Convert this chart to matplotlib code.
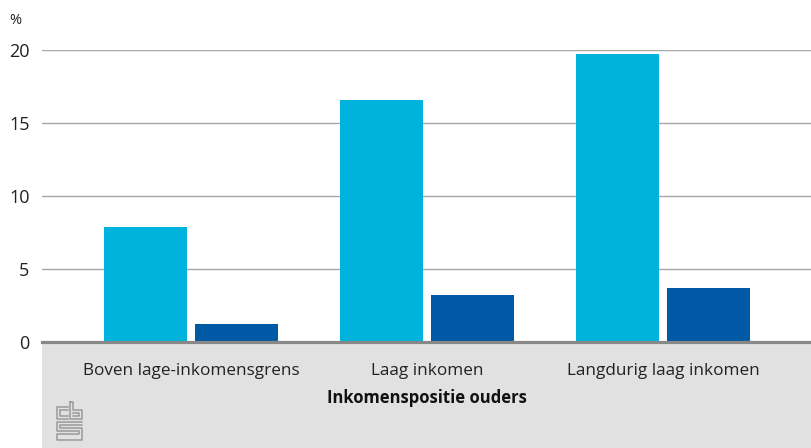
import numpy as np
import matplotlib.pyplot as plt
from matplotlib.patches import Rectangle
from matplotlib.lines import Line2D

categories = ["Boven lage-inkomensgrens", "Laag inkomen", "Langdurig laag inkomen"]
series_light = [7.9, 16.6, 19.7]
series_dark = [1.2, 3.2, 3.7]
yticks = [0, 5, 10, 15, 20]

W, H = 811, 448
plt.rcParams['font.family'] = ['Open Sans', 'DejaVu Sans']

fig = plt.figure(figsize=(W / 100, H / 100), dpi=100)

# grey band under the axis
fig.patches.append(Rectangle((42 / W, 0), (W - 42) / W, (H - 342) / H, transform=fig.transFigure,
                             facecolor="#e1e1e1", edgecolor="none", zorder=-5))

ax = fig.add_axes([42 / W, (H - 342) / H, (W - 42) / W, 292 / H])
ax.set_facecolor("none")
ax.set_zorder(2)

x = np.arange(len(categories))
w = 0.352
off = 0.193
ax.bar(x - off, series_light, w, color="#00b3dc", zorder=3)
ax.bar(x + off, series_dark, w, color="#0059a4", zorder=3)

ax.set_xlim(-0.632, 2.627)
ax.set_ylim(0, 20)
ax.set_yticks(yticks)
ax.set_yticklabels([str(v) for v in yticks], fontsize=13, color="#222222")
ax.yaxis.grid(True, color="#a6a6a6", linewidth=1.0, zorder=1)
ax.tick_params(axis="y", length=0, pad=9)
ax.tick_params(axis="x", length=0, pad=15)
ax.set_xticks(x)
ax.set_xticklabels(categories, fontsize=12.3, color="#222222")
for s in ["top", "right", "left"]:
    ax.spines[s].set_visible(False)
ax.spines["bottom"].set_color("#888888")
ax.spines["bottom"].set_linewidth(2.3)
ax.spines["bottom"].set_zorder(4)
ax.set_xlabel("Inkomenspositie ouders", fontsize=12, fontweight="bold", color="#111111", labelpad=7)

fig.text(9 / W, 1 - 21 / H, "%", fontsize=10.5, color="#222222", va="center")

# cbs logo, drawn in pixel coordinates
def seg(pts):
    xs = [p[0] / W for p in pts]
    ys = [1 - p[1] / H for p in pts]
    fig.add_artist(Line2D(xs, ys, transform=fig.transFigure, color="#9a9a9a", linewidth=1.1))

seg([(68, 407), (57, 407), (57, 419), (68, 419)])
seg([(60, 410), (60, 416), (68, 416)])
seg([(60, 410), (68, 410)])
seg([(70, 402), (70, 419), (82, 419), (82, 410), (73, 410), (73, 402), (70, 402)])
seg([(73, 413), (79, 413), (79, 416), (73, 416)])
seg([(82, 422), (57, 422), (57, 431), (79, 431), (79, 434), (57, 434), (57, 440), (82, 440),
     (82, 428), (60, 428), (60, 425), (82, 425)])

fig.savefig("out.png", dpi=100)
